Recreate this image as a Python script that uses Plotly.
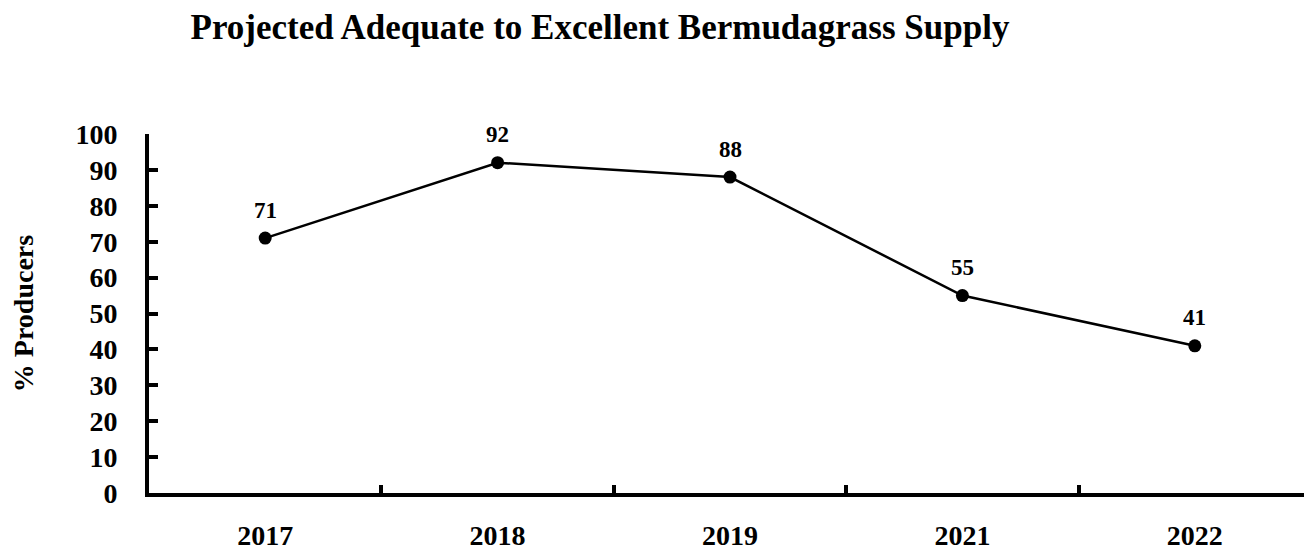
import plotly.graph_objects as go

years = ["2017", "2018", "2019", "2021", "2022"]
pct_producers = [71, 92, 88, 55, 41]
y_ticks = [0, 10, 20, 30, 40, 50, 60, 70, 80, 90, 100]

FONT = "Liberation Serif, Times New Roman, serif"

fig = go.Figure()
fig.add_trace(go.Scatter(
    x=years, y=pct_producers,
    mode="lines+markers",
    line=dict(color="black", width=2.5),
    marker=dict(color="black", size=13),
    cliponaxis=False,
    showlegend=False,
))

for i, v in enumerate(pct_producers):
    fig.add_annotation(
        xref="x", yref="y",
        x=i, y=v, text="<b>%d</b>" % v, showarrow=False,
        yshift=28, yanchor="middle", xanchor="center",
        font=dict(family=FONT, size=23, color="black"),
    )

fig.update_layout(
    width=1312, height=552,
    margin=dict(l=141, r=9, t=126, b=51),
    paper_bgcolor="white", plot_bgcolor="white",
    title=dict(text="Projected Adequate to Excellent Bermudagrass Supply",
               font=dict(family=FONT, size=35, color="black", weight="bold"),
               x=592 / 1312, xanchor="center", y=1 - 19 / 552, yanchor="middle"),
    font=dict(family=FONT, color="black"),
)

fig.update_xaxes(
    type="category", range=[-0.5, 4.5],
    showline=True, linecolor="black", linewidth=4,
    ticks="inside", tickson="boundaries", ticklen=8, tickwidth=4, tickcolor="black",
    tickfont=dict(family=FONT, size=28, color="black", weight="bold"),
    ticklabelstandoff=14,
    showgrid=False, zeroline=False,
)
fig.update_yaxes(
    range=[0, 100], tickvals=y_ticks,
    showline=True, linecolor="black", linewidth=4,
    ticks="inside", ticklen=9, tickwidth=4, tickcolor="black",
    tickfont=dict(family=FONT, size=28, color="black", weight="bold"),
    ticklabelstandoff=22,
    title=dict(text="% Producers", font=dict(family=FONT, size=28, color="black", weight="bold"), standoff=38),
    showgrid=False, zeroline=False,
)

fig.write_html("out.html")
